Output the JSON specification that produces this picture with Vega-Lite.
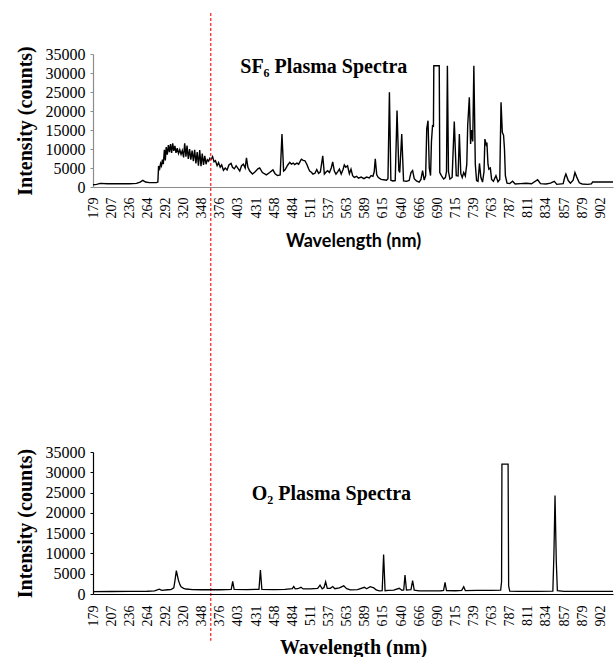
{
  "$schema": "https://vega.github.io/schema/vega-lite/v6.json",
  "background": "white",
  "padding": {"left": 15, "top": 12, "right": 0, "bottom": 0},
  "config": {
    "view": {"stroke": null},
    "axis": {"grid": false, "labelColor": "black", "titleColor": "black", "labelOverlap": false, "labelFlush": false, "labelBound": false}
  },
  "datasets": {
    "sf6": [
      {"idx": 0, "intensity": 600}, {"idx": 2, "intensity": 700}, {"idx": 4, "intensity": 950}, {"idx": 8, "intensity": 850},
      {"idx": 12, "intensity": 850}, {"idx": 16, "intensity": 850}, {"idx": 20, "intensity": 850}, {"idx": 24, "intensity": 950},
      {"idx": 26, "intensity": 1300}, {"idx": 27.5, "intensity": 1750}, {"idx": 29, "intensity": 1300}, {"idx": 31, "intensity": 1150},
      {"idx": 35, "intensity": 1150}, {"idx": 35.8, "intensity": 1300}, {"idx": 36.2, "intensity": 5500}, {"idx": 36.8, "intensity": 4800},
      {"idx": 37.3, "intensity": 6200}, {"idx": 37.8, "intensity": 5600}, {"idx": 38.3, "intensity": 7200}, {"idx": 38.8, "intensity": 6000},
      {"idx": 39.4, "intensity": 9800}, {"idx": 39.9, "intensity": 7000}, {"idx": 40.4, "intensity": 10500}, {"idx": 41, "intensity": 8500},
      {"idx": 41.6, "intensity": 11000}, {"idx": 42.2, "intensity": 9200}, {"idx": 42.8, "intensity": 11300}, {"idx": 43.4, "intensity": 9000},
      {"idx": 44, "intensity": 11500}, {"idx": 44.6, "intensity": 9500}, {"idx": 45.2, "intensity": 10800}, {"idx": 45.8, "intensity": 9000},
      {"idx": 46.5, "intensity": 10200}, {"idx": 47.2, "intensity": 8800}, {"idx": 47.9, "intensity": 9800}, {"idx": 48.6, "intensity": 8600},
      {"idx": 49.3, "intensity": 9600}, {"idx": 50, "intensity": 7800}, {"idx": 50.6, "intensity": 11500}, {"idx": 51.3, "intensity": 8000},
      {"idx": 51.9, "intensity": 10900}, {"idx": 52.6, "intensity": 7400}, {"idx": 53.3, "intensity": 10000}, {"idx": 54, "intensity": 7200},
      {"idx": 54.7, "intensity": 9600}, {"idx": 55.4, "intensity": 6800}, {"idx": 56.1, "intensity": 9800}, {"idx": 56.8, "intensity": 6200},
      {"idx": 57.5, "intensity": 9200}, {"idx": 58.2, "intensity": 5600}, {"idx": 58.9, "intensity": 9700}, {"idx": 59.6, "intensity": 5500},
      {"idx": 60.3, "intensity": 8800}, {"idx": 61, "intensity": 5800}, {"idx": 61.7, "intensity": 8200}, {"idx": 62.4, "intensity": 6000},
      {"idx": 63.1, "intensity": 7200}, {"idx": 63.8, "intensity": 6800}, {"idx": 64.5, "intensity": 7600}, {"idx": 65.2, "intensity": 7300},
      {"idx": 66, "intensity": 8000}, {"idx": 66.8, "intensity": 6600}, {"idx": 67.6, "intensity": 6900}, {"idx": 68.5, "intensity": 5600},
      {"idx": 69.3, "intensity": 6400}, {"idx": 70.2, "intensity": 5200}, {"idx": 71, "intensity": 5800}, {"idx": 72, "intensity": 4400},
      {"idx": 73, "intensity": 5000}, {"idx": 74, "intensity": 4500}, {"idx": 75, "intensity": 5800}, {"idx": 76.2, "intensity": 6200},
      {"idx": 77, "intensity": 5200}, {"idx": 78, "intensity": 4800}, {"idx": 79, "intensity": 5600}, {"idx": 80, "intensity": 4900},
      {"idx": 81, "intensity": 4200}, {"idx": 82, "intensity": 5600}, {"idx": 83, "intensity": 6000}, {"idx": 84, "intensity": 5000},
      {"idx": 84.7, "intensity": 7700}, {"idx": 85.5, "intensity": 5200}, {"idx": 86.5, "intensity": 4200}, {"idx": 88, "intensity": 3400},
      {"idx": 89.5, "intensity": 4000}, {"idx": 91, "intensity": 4800}, {"idx": 92, "intensity": 5000}, {"idx": 93.5, "intensity": 3800},
      {"idx": 95.7, "intensity": 3200}, {"idx": 97.5, "intensity": 3800}, {"idx": 99.3, "intensity": 4500}, {"idx": 100.5, "intensity": 3500},
      {"idx": 101.8, "intensity": 3000}, {"idx": 103.3, "intensity": 3200}, {"idx": 104.3, "intensity": 13950}, {"idx": 105.2, "intensity": 4200},
      {"idx": 106, "intensity": 4500}, {"idx": 107.5, "intensity": 5800}, {"idx": 108.6, "intensity": 6500}, {"idx": 109.5, "intensity": 6000},
      {"idx": 110.5, "intensity": 6300}, {"idx": 111.3, "intensity": 5900}, {"idx": 112.5, "intensity": 6300}, {"idx": 113.5, "intensity": 6000},
      {"idx": 115, "intensity": 7300}, {"idx": 116, "intensity": 7000}, {"idx": 117, "intensity": 6900}, {"idx": 118, "intensity": 6000},
      {"idx": 119, "intensity": 4800}, {"idx": 119.6, "intensity": 4200}, {"idx": 120.5, "intensity": 3900}, {"idx": 121.4, "intensity": 3400},
      {"idx": 122.5, "intensity": 3600}, {"idx": 123.5, "intensity": 4600}, {"idx": 124.5, "intensity": 3600}, {"idx": 125.5, "intensity": 4000},
      {"idx": 126.8, "intensity": 8200}, {"idx": 127.7, "intensity": 3400}, {"idx": 128.8, "intensity": 4000}, {"idx": 129.5, "intensity": 4300},
      {"idx": 130.5, "intensity": 3800}, {"idx": 131.5, "intensity": 5000}, {"idx": 132.3, "intensity": 6600}, {"idx": 133.2, "intensity": 4200},
      {"idx": 134.1, "intensity": 3400}, {"idx": 135, "intensity": 4000}, {"idx": 136, "intensity": 4700}, {"idx": 137, "intensity": 3400},
      {"idx": 138, "intensity": 4600}, {"idx": 138.7, "intensity": 5800}, {"idx": 139.5, "intensity": 5200}, {"idx": 140.5, "intensity": 5600},
      {"idx": 141.5, "intensity": 3500}, {"idx": 142.4, "intensity": 4700}, {"idx": 143.3, "intensity": 3000}, {"idx": 144.2, "intensity": 2500},
      {"idx": 145.5, "intensity": 2800}, {"idx": 146.5, "intensity": 2300}, {"idx": 148, "intensity": 2600}, {"idx": 149.5, "intensity": 2200},
      {"idx": 151, "intensity": 2600}, {"idx": 152.5, "intensity": 2400}, {"idx": 153.5, "intensity": 3000}, {"idx": 154.5, "intensity": 2800},
      {"idx": 155.2, "intensity": 4000}, {"idx": 155.8, "intensity": 7400}, {"idx": 156.6, "intensity": 3200}, {"idx": 157.5, "intensity": 2500},
      {"idx": 159, "intensity": 2000}, {"idx": 160.5, "intensity": 1900}, {"idx": 162, "intensity": 1800}, {"idx": 162.8, "intensity": 2200},
      {"idx": 163.6, "intensity": 24900}, {"idx": 164.4, "intensity": 1800}, {"idx": 165.5, "intensity": 1600}, {"idx": 166.8, "intensity": 1700},
      {"idx": 167.8, "intensity": 20100}, {"idx": 168.8, "intensity": 4300}, {"idx": 169.3, "intensity": 3800}, {"idx": 170.4, "intensity": 13950},
      {"idx": 171.4, "intensity": 1600}, {"idx": 173, "intensity": 1500}, {"idx": 174.5, "intensity": 1700}, {"idx": 175.5, "intensity": 3800},
      {"idx": 176.4, "intensity": 4300}, {"idx": 177.3, "intensity": 2200}, {"idx": 178.5, "intensity": 1600}, {"idx": 180, "intensity": 1300},
      {"idx": 181, "intensity": 2000}, {"idx": 181.9, "intensity": 4300}, {"idx": 182.8, "intensity": 1800}, {"idx": 183.6, "intensity": 3000},
      {"idx": 184.2, "intensity": 15300}, {"idx": 184.9, "intensity": 17450}, {"idx": 185.6, "intensity": 5000}, {"idx": 186.3, "intensity": 3000},
      {"idx": 186.8, "intensity": 12000}, {"idx": 187.4, "intensity": 16100}, {"idx": 187.9, "intensity": 16000}, {"idx": 188.1, "intensity": 31900},
      {"idx": 191.1, "intensity": 31900}, {"idx": 191.4, "intensity": 3800}, {"idx": 192.3, "intensity": 3000}, {"idx": 193.5, "intensity": 2100},
      {"idx": 194.5, "intensity": 2500}, {"idx": 195.1, "intensity": 4000}, {"idx": 195.6, "intensity": 31900}, {"idx": 196.2, "intensity": 4000},
      {"idx": 197, "intensity": 2100}, {"idx": 198.2, "intensity": 2500}, {"idx": 199.4, "intensity": 17200}, {"idx": 200.5, "intensity": 3000},
      {"idx": 201.5, "intensity": 2900}, {"idx": 202.2, "intensity": 13950}, {"idx": 203, "intensity": 3500}, {"idx": 203.8, "intensity": 2500},
      {"idx": 204.6, "intensity": 3800}, {"idx": 205.5, "intensity": 2900}, {"idx": 206.3, "intensity": 6000}, {"idx": 206.8, "intensity": 16100},
      {"idx": 207.7, "intensity": 23600}, {"idx": 208.4, "intensity": 11300}, {"idx": 209, "intensity": 15000}, {"idx": 209.6, "intensity": 12000},
      {"idx": 210.2, "intensity": 31900}, {"idx": 211, "intensity": 6000}, {"idx": 211.7, "intensity": 1700}, {"idx": 212.5, "intensity": 1500},
      {"idx": 213.3, "intensity": 6200}, {"idx": 214.1, "intensity": 2500}, {"idx": 215, "intensity": 1300}, {"idx": 215.8, "intensity": 4000},
      {"idx": 216.3, "intensity": 12600}, {"idx": 217, "intensity": 11200}, {"idx": 217.4, "intensity": 11700}, {"idx": 218, "intensity": 6000},
      {"idx": 218.5, "intensity": 4700}, {"idx": 219.3, "intensity": 5000}, {"idx": 220, "intensity": 2000}, {"idx": 221, "intensity": 1500},
      {"idx": 222.4, "intensity": 3000}, {"idx": 223.5, "intensity": 1400}, {"idx": 224.5, "intensity": 2000}, {"idx": 225.2, "intensity": 22300},
      {"idx": 225.9, "intensity": 14400}, {"idx": 226.6, "intensity": 13600}, {"idx": 227.1, "intensity": 10000}, {"idx": 227.6, "intensity": 3000},
      {"idx": 228.5, "intensity": 1000}, {"idx": 230, "intensity": 900}, {"idx": 231.6, "intensity": 1500}, {"idx": 233, "intensity": 800},
      {"idx": 236, "intensity": 900}, {"idx": 239, "intensity": 1000}, {"idx": 242, "intensity": 850}, {"idx": 245.4, "intensity": 1900},
      {"idx": 247, "intensity": 900}, {"idx": 250, "intensity": 800}, {"idx": 252.5, "intensity": 1000}, {"idx": 254.6, "intensity": 1500},
      {"idx": 256, "intensity": 700}, {"idx": 259.5, "intensity": 900}, {"idx": 260.3, "intensity": 2500}, {"idx": 261, "intensity": 3400},
      {"idx": 262.3, "intensity": 1700}, {"idx": 263.5, "intensity": 1000}, {"idx": 265, "intensity": 1800}, {"idx": 266, "intensity": 3800},
      {"idx": 267, "intensity": 2600}, {"idx": 268.4, "intensity": 1100}, {"idx": 270, "intensity": 800}, {"idx": 273, "intensity": 700},
      {"idx": 275, "intensity": 800}, {"idx": 275.8, "intensity": 1300}, {"idx": 287, "intensity": 1300}
    ],
    "o2": [
      {"idx": 0, "intensity": 600}, {"idx": 10, "intensity": 620}, {"idx": 20, "intensity": 640}, {"idx": 30, "intensity": 680},
      {"idx": 34, "intensity": 750}, {"idx": 36.6, "intensity": 1200}, {"idx": 38, "intensity": 900}, {"idx": 41.2, "intensity": 1050},
      {"idx": 43, "intensity": 1100}, {"idx": 44.6, "intensity": 1500}, {"idx": 45.3, "intensity": 3500}, {"idx": 46, "intensity": 5750},
      {"idx": 46.6, "intensity": 4500}, {"idx": 47.2, "intensity": 3300}, {"idx": 48, "intensity": 2300}, {"idx": 48.6, "intensity": 1800},
      {"idx": 50, "intensity": 1400}, {"idx": 51.3, "intensity": 1230}, {"idx": 55, "intensity": 1100}, {"idx": 60, "intensity": 1050},
      {"idx": 65, "intensity": 1100}, {"idx": 70, "intensity": 1050}, {"idx": 76.3, "intensity": 1150}, {"idx": 77.1, "intensity": 3100},
      {"idx": 77.9, "intensity": 1150}, {"idx": 85, "intensity": 1100}, {"idx": 91.6, "intensity": 1150}, {"idx": 92.4, "intensity": 5930},
      {"idx": 93.2, "intensity": 1150}, {"idx": 100, "intensity": 1100}, {"idx": 106, "intensity": 1150}, {"idx": 110, "intensity": 1300},
      {"idx": 110.8, "intensity": 1840}, {"idx": 111.6, "intensity": 1250}, {"idx": 113, "intensity": 1300}, {"idx": 114.8, "intensity": 1640},
      {"idx": 116, "intensity": 1250}, {"idx": 120, "intensity": 1250}, {"idx": 124, "intensity": 1400}, {"idx": 125.3, "intensity": 2180},
      {"idx": 126.5, "intensity": 1300}, {"idx": 127.5, "intensity": 1600}, {"idx": 128.4, "intensity": 3010}, {"idx": 129.3, "intensity": 1400},
      {"idx": 131, "intensity": 1400}, {"idx": 132.3, "intensity": 1840}, {"idx": 133.5, "intensity": 1300}, {"idx": 136, "intensity": 1500},
      {"idx": 138.4, "intensity": 2000}, {"idx": 140, "intensity": 1300}, {"idx": 142, "intensity": 1000}, {"idx": 146, "intensity": 1100},
      {"idx": 149.8, "intensity": 1650}, {"idx": 151, "intensity": 1300}, {"idx": 153, "intensity": 1800}, {"idx": 155, "intensity": 1500},
      {"idx": 156.3, "intensity": 1000}, {"idx": 158, "intensity": 750}, {"idx": 159.6, "intensity": 800}, {"idx": 160.4, "intensity": 9710},
      {"idx": 161.2, "intensity": 800}, {"idx": 163, "intensity": 900}, {"idx": 166, "intensity": 950}, {"idx": 169, "intensity": 1400},
      {"idx": 170.5, "intensity": 900}, {"idx": 171.5, "intensity": 1000}, {"idx": 172.2, "intensity": 4690}, {"idx": 173, "intensity": 1000},
      {"idx": 175.5, "intensity": 1100}, {"idx": 176.4, "intensity": 3290}, {"idx": 177.3, "intensity": 950}, {"idx": 180, "intensity": 750},
      {"idx": 186, "intensity": 750}, {"idx": 192, "intensity": 800}, {"idx": 193.5, "intensity": 900}, {"idx": 194.3, "intensity": 2870},
      {"idx": 195.1, "intensity": 850}, {"idx": 200, "intensity": 800}, {"idx": 203.5, "intensity": 900}, {"idx": 204.6, "intensity": 1800},
      {"idx": 205.5, "intensity": 850}, {"idx": 212, "intensity": 900}, {"idx": 220, "intensity": 900}, {"idx": 225, "intensity": 950},
      {"idx": 225.5, "intensity": 3000}, {"idx": 225.7, "intensity": 32000}, {"idx": 229.1, "intensity": 32000}, {"idx": 229.4, "intensity": 2000},
      {"idx": 230, "intensity": 700}, {"idx": 235, "intensity": 640}, {"idx": 245, "intensity": 640}, {"idx": 253.8, "intensity": 700},
      {"idx": 254.4, "intensity": 10000}, {"idx": 255, "intensity": 24280}, {"idx": 255.7, "intensity": 8000}, {"idx": 256.3, "intensity": 800},
      {"idx": 260, "intensity": 640}, {"idx": 270, "intensity": 640}, {"idx": 280, "intensity": 640}, {"idx": 287, "intensity": 640}
    ]
  },
  "vconcat": [
    {
      "width": 520,
      "height": 133,
      "layer": [
        {
          "data": {"name": "sf6"},
          "mark": {"type": "line", "color": "black", "strokeWidth": 1.4},
          "encoding": {
            "x": {
              "field": "idx", "type": "quantitative",
              "scale": {"domain": [0, 287], "nice": false, "zero": false},
              "axis": {
                "values": [0,10,20,30,40,50,60,70,80,90,100,110,120,130,140,150,160,170,180,190,200,210,220,230,240,250,260,270,280],
                "tickCount": 40,
                "labelExpr": "['179','207','236','264','292','320','348','376','403','431','458','484','511','537','563','589','615','640','666','690','715','739','763','787','811','834','857','879','902'][round(datum.value/10)]",
                "labelAngle": -90, "labelOverlap": false,
                "ticks": false, "labelPadding": 10,
                "labelFont": "Liberation Serif", "labelFontSize": 14,
                "domainColor": "#8c8c8c", "domainWidth": 1.2,
                "title": "Wavelength (nm)", "titleFont": "Lato", "titleFontWeight": "bold", "titleFontSize": 18, "titlePadding": 14
              }
            },
            "y": {
              "field": "intensity", "type": "quantitative",
              "scale": {"domain": [0, 35000], "nice": false},
              "axis": {
                "values": [0,5000,10000,15000,20000,25000,30000,35000], "tickCount": 10, "format": "d", "labelOverlap": false,
                "tickSize": 3, "tickColor": "#8c8c8c", "domainColor": "#8c8c8c", "domainWidth": 1.2,
                "labelPadding": 5, "labelFont": "Liberation Serif", "labelFontSize": 16,
                "title": "Intensity (counts)", "titleFont": "Liberation Serif", "titleFontWeight": "bold", "titleFontSize": 20, "titlePadding": 10
              }
            }
          }
        },
        {
          "data": {"values": [{"label": "SF₆ Plasma Spectra", "idx": 127.4, "intensity": 30000}]},
          "mark": {"type": "text", "font": "Liberation Serif", "fontWeight": "bold", "fontSize": 20, "align": "center", "baseline": "alphabetic", "color": "black"},
          "encoding": {
            "x": {"field": "idx", "type": "quantitative"},
            "y": {"field": "intensity", "type": "quantitative"},
            "text": {"field": "label"}
          }
        },
        {
          "data": {"values": [{"idx": 65, "top": 45800, "bottom": -119400}]},
          "mark": {"type": "rule", "color": "#ff1a1a", "strokeDash": [3, 2], "strokeWidth": 1.2},
          "encoding": {
            "x": {"field": "idx", "type": "quantitative"},
            "y": {"field": "top", "type": "quantitative"},
            "y2": {"field": "bottom"}
          }
        }
      ]
    },
    {
      "width": 520,
      "height": 142,
      "layer": [
        {
          "data": {"name": "o2"},
          "mark": {"type": "line", "color": "black", "strokeWidth": 1.3},
          "encoding": {
            "x": {
              "field": "idx", "type": "quantitative",
              "scale": {"domain": [0, 287], "nice": false, "zero": false},
              "axis": {
                "values": [0,10,20,30,40,50,60,70,80,90,100,110,120,130,140,150,160,170,180,190,200,210,220,230,240,250,260,270,280],
                "tickCount": 40,
                "labelExpr": "['179','207','236','264','292','320','348','376','403','431','458','484','511','537','563','589','615','640','666','690','715','739','763','787','811','834','857','879','902'][round(datum.value/10)]",
                "labelAngle": -90, "labelOverlap": false,
                "ticks": false, "labelPadding": 11,
                "labelFont": "Liberation Serif", "labelFontSize": 14,
                "domainColor": "black", "domainWidth": 1.2,
                "title": "Wavelength (nm)", "titleFont": "Liberation Serif", "titleFontWeight": "bold", "titleFontSize": 20, "titlePadding": 11
              }
            },
            "y": {
              "field": "intensity", "type": "quantitative",
              "scale": {"domain": [0, 35000], "nice": false},
              "axis": {
                "values": [0,5000,10000,15000,20000,25000,30000,35000], "tickCount": 10, "format": "d", "labelOverlap": false,
                "tickSize": 3, "tickColor": "black", "domainColor": "black", "domainWidth": 1.2,
                "labelPadding": 5, "labelFont": "Liberation Serif", "labelFontSize": 16,
                "title": "Intensity (counts)", "titleFont": "Liberation Serif", "titleFontWeight": "bold", "titleFontSize": 20, "titlePadding": 10
              }
            }
          }
        },
        {
          "data": {"values": [{"label": "O₂ Plasma Spectra", "idx": 131.6, "intensity": 23050}]},
          "mark": {"type": "text", "font": "Liberation Serif", "fontWeight": "bold", "fontSize": 20, "align": "center", "baseline": "alphabetic", "color": "black"},
          "encoding": {
            "x": {"field": "idx", "type": "quantitative"},
            "y": {"field": "intensity", "type": "quantitative"},
            "text": {"field": "label"}
          }
        }
      ]
    }
  ],
  "spacing": 265,
  "bounds": "flush"
}
